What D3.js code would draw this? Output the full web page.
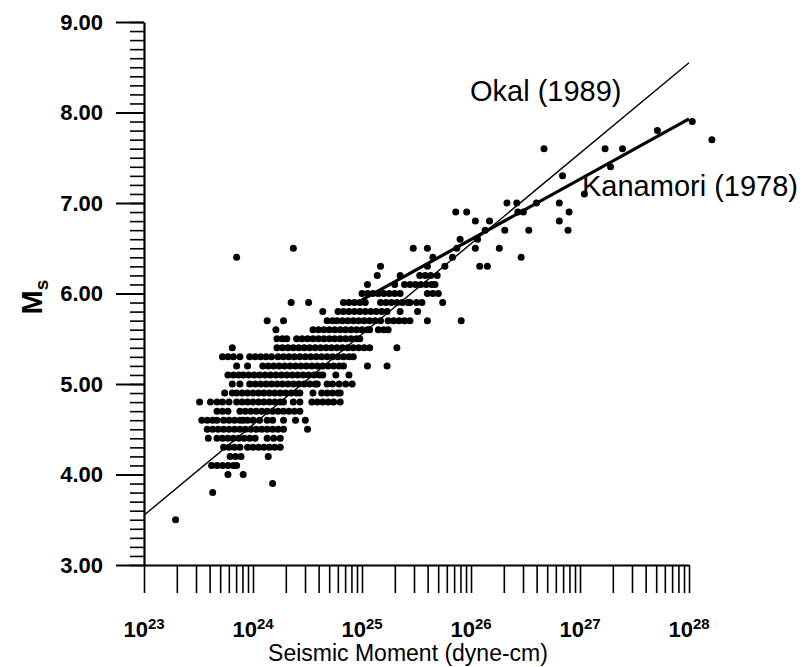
<!DOCTYPE html>
<html><head><meta charset="utf-8">
<script src="https://cdn.jsdelivr.net/npm/d3@7"></script>
<style>body{margin:0;background:#fff}</style>
</head><body>
<svg id="c" width="805" height="667"></svg>
<script>
// ---- data ----
const msRows = [3.5, 3.8, 3.9, 4.0, 4.1, 4.2, 4.3, 4.4, 4.5, 4.6, 4.7, 4.8, 4.9, 5.0, 5.1, 5.2, 5.3, 5.4, 5.5, 5.6, 5.7, 5.8, 5.9, 6.0, 6.1, 6.2, 6.3, 6.4, 6.5, 6.6, 6.7, 6.8, 6.9, 7.0, 7.1, 7.3, 7.4, 7.6, 7.7, 7.8, 7.9];
const logMomentRows = [
  [23.29],
  [23.63],
  [24.18],
  [23.77, 23.91],
  [23.62, 23.67, 23.72, 23.77, 23.82, 23.85],
  [23.79, 23.84, 23.89, 24.14],
  [23.73, 23.78, 23.83, 23.88, 23.95, 24.0, 24.05, 24.1, 24.15, 24.2, 24.25],
  [23.59, 23.67, 23.72, 23.77, 23.82, 23.87, 23.92, 23.97, 24.02, 24.13, 24.19, 24.25],
  [23.58, 23.63, 23.68, 23.73, 23.78, 23.83, 23.88, 23.93, 23.98, 24.03, 24.08, 24.13, 24.18, 24.23, 24.28, 24.5],
  [23.53, 23.58, 23.63, 23.67, 23.73, 23.78, 23.83, 23.88, 23.91, 23.95, 24.0, 24.06, 24.13, 24.18, 24.28, 24.39, 24.48],
  [23.67, 23.72, 23.77, 23.88, 23.93, 23.98, 24.03, 24.08, 24.13, 24.18, 24.23, 24.28, 24.33, 24.38, 24.43],
  [23.51, 23.61, 23.67, 23.72, 23.78, 23.85, 23.9, 23.95, 24.0, 24.05, 24.1, 24.15, 24.2, 24.25, 24.28, 24.37, 24.43, 24.54, 24.59, 24.64, 24.69, 24.74, 24.8],
  [23.74, 23.81, 23.85, 23.9, 23.95, 24.0, 24.05, 24.1, 24.15, 24.2, 24.25, 24.3, 24.35, 24.4, 24.43, 24.55, 24.63, 24.68, 24.73, 24.78, 24.8],
  [23.81, 23.88, 23.97, 24.02, 24.07, 24.12, 24.17, 24.22, 24.27, 24.32, 24.37, 24.42, 24.47, 24.52, 24.57, 24.59, 24.68, 24.73, 24.79, 24.85, 24.91],
  [23.77, 23.82, 23.87, 23.91, 23.96, 24.01, 24.06, 24.11, 24.16, 24.21, 24.26, 24.31, 24.36, 24.41, 24.46, 24.51, 24.56, 24.61, 24.64, 24.76, 24.88],
  [23.85, 23.95, 24.09, 24.14, 24.19, 24.24, 24.29, 24.34, 24.39, 24.44, 24.49, 24.54, 24.59, 24.64, 24.69, 24.74, 24.79, 24.83, 25.05, 25.23],
  [23.72, 23.77, 23.82, 23.88, 23.97, 24.02, 24.07, 24.12, 24.17, 24.23, 24.28, 24.33, 24.38, 24.43, 24.48, 24.53, 24.58, 24.63, 24.68, 24.73, 24.78, 24.83, 24.88, 24.92],
  [23.81, 24.22, 24.27, 24.32, 24.37, 24.42, 24.47, 24.52, 24.57, 24.62, 24.67, 24.72, 24.77, 24.82, 24.87, 24.92, 24.97, 25.02, 25.07, 25.32],
  [24.22, 24.27, 24.31, 24.4, 24.45, 24.5, 24.55, 24.6, 24.65, 24.7, 24.75, 24.8, 24.85, 24.9, 24.95, 24.98],
  [24.21, 24.55, 24.6, 24.65, 24.7, 24.75, 24.8, 24.85, 24.9, 24.95, 25.0, 25.05, 25.07, 25.15, 25.2, 25.24],
  [24.13, 24.28, 24.68, 24.73, 24.77, 24.82, 24.87, 24.92, 24.97, 25.02, 25.07, 25.12, 25.17, 25.24, 25.29, 25.34, 25.39, 25.44, 25.6, 25.91],
  [24.64, 24.78, 24.83, 24.88, 24.93, 24.98, 25.03, 25.08, 25.13, 25.18, 25.23, 25.35, 25.51],
  [24.35, 24.51, 24.83, 24.88, 24.93, 24.98, 25.03, 25.17, 25.22, 25.27, 25.32, 25.37, 25.42, 25.44, 25.5, 25.55, 25.74],
  [25.0, 25.05, 25.1, 25.15, 25.2, 25.25, 25.3, 25.35, 25.6, 25.65, 25.7],
  [25.05, 25.3, 25.39, 25.44, 25.49, 25.54, 25.59, 25.64, 25.67],
  [25.14, 25.35, 25.53, 25.58, 25.63, 25.69],
  [25.17, 25.6, 25.76, 26.08, 26.15],
  [23.85, 25.65, 25.83, 26.46],
  [24.37, 25.47, 25.6, 25.87, 26.04, 26.26],
  [25.9, 26.06],
  [26.13, 26.31, 26.53, 26.89],
  [26.04, 26.17, 26.81],
  [25.86, 25.96, 26.43, 26.48, 26.9],
  [26.33, 26.42, 26.6, 26.81],
  [27.04],
  [26.84],
  [27.28],
  [26.67, 27.23, 27.39],
  [28.21],
  [27.71],
  [28.03]
];
const xTickExponents = [23, 24, 25, 26, 27, 28];
const yTickValues = [3, 4, 5, 6, 7, 8, 9];
const yTickLabels = ["3.00", "4.00", "5.00", "6.00", "7.00", "8.00", "9.00"];
const okalLogM0 = [23, 28];
const okalMs = [3.55, 8.55];
const kanamoriLogM0 = [25, 28];
const kanamoriMs = [5.93, 7.93];

// ---- chart ----
const svg = d3.select("#c");
const x = d3.scaleLog().domain([1e23, 1e28]).range([144, 689]);
const y = d3.scaleLinear().domain([3, 9]).range([565, 22]);
const FONT = "'Liberation Sans', Arial, sans-serif";

const xMinor = [];
for (let e = 23; e < 28; e++) for (let m = 1; m < 10; m++) xMinor.push(m * Math.pow(10, e));
xMinor.push(1e28);
const yMinor = d3.range(30, 91).map(v => v / 10);

// y axis minor
svg.append("g").attr("transform", "translate(144,0)")
  .call(d3.axisLeft(y).tickValues(yMinor).tickSize(14).tickSizeOuter(0).tickFormat(""))
  .call(g => g.selectAll("line").attr("stroke-width", 1.6))
  .call(g => g.select(".domain").attr("stroke-width", 2.2));
// y axis major
svg.append("g").attr("transform", "translate(144,0)")
  .call(d3.axisLeft(y).tickValues(yTickValues).tickSize(28).tickPadding(13).tickSizeOuter(0)
    .tickFormat((d, i) => yTickLabels[i]))
  .call(g => g.selectAll("line").attr("stroke-width", 2))
  .call(g => g.select(".domain").remove())
  .call(g => g.selectAll("text").attr("font-family", FONT).attr("font-size", 22)
    .attr("font-weight", "bold").attr("fill", "#000"));

// x axis
svg.append("g").attr("transform", "translate(0,565)")
  .call(d3.axisBottom(x).tickValues(xMinor).tickSize(28).tickSizeOuter(0).tickFormat(""))
  .call(g => g.selectAll("line").attr("stroke-width", 1.6))
  .call(g => g.select(".domain").attr("stroke-width", 2.2));

// x tick labels with superscripts
const xl = svg.append("g");
xTickExponents.forEach(e => {
  const t = xl.append("text")
    .attr("x", x(Math.pow(10, e)))
    .attr("y", 637)
    .attr("text-anchor", "middle")
    .attr("font-family", FONT).attr("font-weight", "bold").attr("font-size", 22);
  t.append("tspan").text("10");
  t.append("tspan").attr("dy", -8).attr("font-size", 15).text(String(e));
});

// axis titles
svg.append("text").attr("x", 408).attr("y", 661).attr("text-anchor", "middle")
  .attr("font-family", FONT).attr("font-size", 23).text("Seismic Moment (dyne-cm)");
const yt = svg.append("text").attr("transform", "translate(42,297) rotate(-90)")
  .attr("text-anchor", "middle").attr("font-family", FONT).attr("font-weight", "bold").attr("font-size", 29);
yt.append("tspan").text("M");
yt.append("tspan").attr("dy", 6).attr("font-size", 19).text("s");

// points
const pts = [];
msRows.forEach((ms, i) => logMomentRows[i].forEach(lm => pts.push({lm, ms})));
svg.append("g").selectAll("circle").data(pts).join("circle")
  .attr("cx", d => x(Math.pow(10, d.lm)))
  .attr("cy", d => y(d.ms))
  .attr("r", 3.5)
  .attr("fill", "#000");

// regression lines
const line = d3.line().x(d => x(Math.pow(10, d[0]))).y(d => y(d[1]));
svg.append("path").datum(okalLogM0.map((v, i) => [v, okalMs[i]]))
  .attr("d", line).attr("stroke", "#000").attr("stroke-width", 1.4).attr("fill", "none");
svg.append("path").datum(kanamoriLogM0.map((v, i) => [v, kanamoriMs[i]]))
  .attr("d", line).attr("stroke", "#000").attr("stroke-width", 3.2).attr("fill", "none");

// line labels
svg.append("text").attr("x", 470).attr("y", 101).attr("font-family", FONT).attr("font-size", 29).text("Okal (1989)");
svg.append("text").attr("x", 582).attr("y", 196).attr("font-family", FONT).attr("font-size", 29).text("Kanamori (1978)");
</script>
</body></html>
